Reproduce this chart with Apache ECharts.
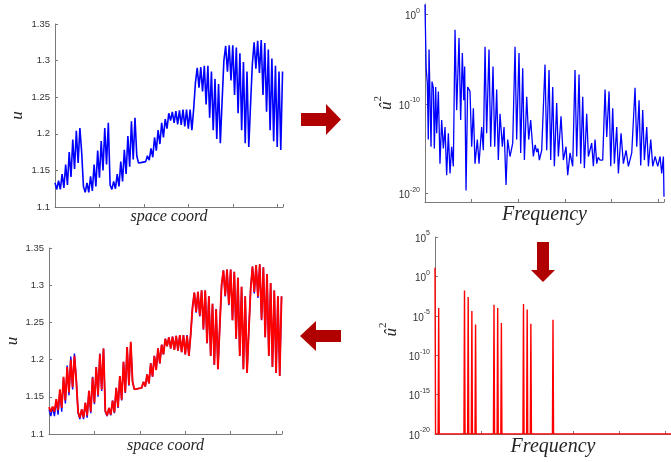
<!DOCTYPE html>
<html><head><meta charset="utf-8">
<script src="https://cdn.jsdelivr.net/npm/echarts@6/dist/echarts.min.js"></script>
<style>html,body{margin:0;padding:0;background:#fff}#c{width:671px;height:462px}</style>
</head><body><div id="c"></div>
<script>
// ---- spatial signal (index along space, value u) ----
const sIdx = [0,4,8,12,16,20,24,28,32,36,40,44,48,52,56,60,64,68,72,76,80,84,88,92,96,100,104,108,112,116,120,124,128,132,136,140,144,148,152,156,160,164,168,172,176,180,184,188,192,196,200,204,208,212,216,220,224,228,232,236,240,244,248,252,256,260,264,268,272,276,280,284,288,292,296,300,304,308,312,316,320,324,328,332,336,340,344,348,352,356,360,364,368,372,376,380,384,388,392,396,400,404,408,412,416,420,424,428,432,436,440,444,448,452,456,460,464,468,472,476,480,484,488,492,496,500,504,508,512];
const uBlue = [1.133,1.124,1.136,1.124,1.145,1.126,1.158,1.130,1.175,1.141,1.192,1.152,1.204,1.160,1.208,1.175,
1.128,1.120,1.133,1.120,1.142,1.122,1.158,1.128,1.177,1.140,1.190,1.150,1.208,1.158,1.215,1.130,
1.124,1.135,1.125,1.145,1.128,1.162,1.135,1.178,1.145,1.197,1.155,1.217,1.165,1.222,1.170,1.160,
1.162,1.161,1.163,1.162,1.170,1.164,1.180,1.168,1.195,1.177,1.205,1.186,1.215,1.195,1.220,1.207,
1.228,1.218,1.230,1.215,1.231,1.213,1.232,1.212,1.233,1.210,1.233,1.207,1.233,1.205,1.234,1.270,
1.290,1.263,1.291,1.258,1.293,1.240,1.293,1.222,1.285,1.205,1.275,1.193,1.268,1.187,1.245,1.300,
1.320,1.285,1.321,1.273,1.321,1.253,1.318,1.228,1.310,1.205,1.298,1.187,1.285,1.182,1.240,1.295,
1.325,1.289,1.327,1.283,1.328,1.253,1.324,1.230,1.315,1.205,1.303,1.190,1.293,1.182,1.285,1.178,1.285];
const uRed = [1.136,1.130,1.137,1.130,1.147,1.132,1.160,1.135,1.177,1.145,1.190,1.156,1.200,1.163,1.205,1.172,
1.130,1.122,1.133,1.122,1.142,1.125,1.158,1.130,1.176,1.142,1.190,1.152,1.207,1.160,1.215,1.131,
1.125,1.135,1.126,1.145,1.129,1.162,1.136,1.178,1.146,1.197,1.156,1.217,1.166,1.224,1.170,1.160,
1.162,1.161,1.163,1.162,1.170,1.164,1.180,1.168,1.195,1.177,1.205,1.186,1.215,1.195,1.220,1.207,
1.228,1.218,1.230,1.215,1.231,1.213,1.232,1.212,1.233,1.210,1.233,1.207,1.232,1.205,1.234,1.270,
1.290,1.264,1.291,1.259,1.293,1.241,1.293,1.222,1.285,1.205,1.275,1.193,1.268,1.187,1.245,1.300,
1.320,1.286,1.321,1.274,1.321,1.253,1.318,1.228,1.310,1.205,1.298,1.187,1.285,1.182,1.240,1.295,
1.325,1.291,1.327,1.285,1.328,1.254,1.324,1.230,1.315,1.205,1.303,1.190,1.293,1.182,1.285,1.178,1.285];

// ---- full spectrum (frequency index, log10 of u-hat^2) ----
const specIdx = [0,2.5,5.0,7.1,8.6,12.9,15.0,17.9,20.0,22.9,25.0,28.6,32.1,35.7,39.3,42.9,46.4,50.0,53.6,57.1,60.7,
64.3,67.9,72.9,76.4,80.0,82.9,85.0,87.9,91.4,96.4,100.0,103.6,107.1,112.1,115.7,121.4,125.0,
128.6,132.1,137.1,140.7,145.7,149.3,153.6,157.1,160.7,165.7,169.3,173.6,177.1,182.1,187.9,
192.9,196.4,201.4,205.0,209.3,212.9,217.9,222.1,226.4,232.1,236.0,239.3,242.0,245.0,250.0,
257.1,260.7,265.7,269.3,273.6,277.1,282.1,285.7,291.4,296.4,302.1,305.7,310.7,316.4,
321.4,325.0,330.0,333.6,337.9,341.4,346.4,350.0,357.1,360.7,364.3,367.9,371.0,375.0,380.7,
385.7,389.3,394.3,397.9,402.1,405.7,410.7,414.3,420.0,425.0,430.7,435.7,442.9,
450.0,453.6,458.6,462.1,466.4,470.0,475.0,478.6,483.6,487.9,492.9,498.6,503.6,507.1,510.7,512.0];
const specExp = [1.15,-6.0,-7.7,-14.0,-3.9,-14.8,-7.5,-8.2,-15.0,-8.1,-13.3,-8.6,-16.7,-11.8,-15.0,-12.6,-18.0,-13.3,-17.8,-14.8,-17.0,
-1.7,-10.7,-2.6,-11.8,-4.3,-9.6,-5.8,-19.7,-8.1,-8.6,-14.8,-10.5,-16.7,-14.0,-16.7,-12.6,-15.2,
-3.6,-13.3,-3.9,-14.8,-5.8,-14.8,-8.4,-16.3,-11.1,-14.8,-12.6,-19.1,-14.0,-15.9,-14.4,
-3.6,-14.0,-4.3,-15.5,-6.0,-16.3,-9.2,-14.0,-11.8,-15.9,-14.6,-15.4,-15.0,-16.3,-15.2,
-5.6,-15.2,-6.2,-16.3,-8.1,-17.0,-9.9,-15.9,-11.4,-16.3,-14.8,-18.0,-15.5,-17.0,
-6.2,-15.9,-6.7,-16.7,-9.2,-17.2,-11.1,-15.9,-14.4,-17.0,-14.0,-16.7,-16.0,-16.3,-16.3,
-8.4,-13.7,-8.6,-17.0,-10.5,-16.7,-12.6,-17.8,-13.3,-16.7,-15.2,-17.0,-15.5,
-8.2,-14.8,-9.6,-16.9,-10.7,-16.3,-12.6,-17.0,-14.0,-17.0,-15.9,-17.0,-15.9,-17.8,-15.9,-20.4];

// ---- truncated spectrum: retained modes (index, log10 value); all others at floor ----
const keptIdx = [0,8,64,72,80,88,128,136,144,192,200,208,256];
const keptExp = [1.1,-4.0,-1.8,-2.6,-4.4,-6.1,-3.6,-4.0,-5.9,-3.5,-4.2,-6.0,-5.5];
const floorExp = -20;

const specLabels = [-20,-10,0];

const sigBlue = sIdx.map((x,i)=>[x,uBlue[i]]);
const sigRed = sIdx.map((x,i)=>[x,uRed[i]]);
const specBlue = specIdx.map((x,i)=>[x,specExp[i]]);
const specRed = [];
keptIdx.forEach((x,i)=>{
  if (x>0) specRed.push([x-1.2,floorExp]);
  specRed.push([x,keptExp[i]]);
  specRed.push([x+1.2,floorExp]);
});
specRed.push([512,floorExp]);

const axisCol = '#7a7a7a', labCol = '#333333';
const axLine = {onZero:false,lineStyle:{color:axisCol,width:1}};
const axTick = {inside:true,length:3,lineStyle:{color:axisCol}};
const serifIt = {fontFamily:'Liberation Serif',fontStyle:'italic',color:'#262626'};
const powRich = {b:{fontSize:10,color:labCol,padding:[4,0,0,0],verticalAlign:'bottom'},
                 s:{fontSize:7,color:labCol,verticalAlign:'top'}};
const powFmt = v => '{b|10}{s|' + v + '}';
const uName = {u:Object.assign({fontSize:17,padding:[5,0,0,0],verticalAlign:'bottom'},serifIt),
               s:{fontSize:11,color:'#262626',fontFamily:'Liberation Serif',verticalAlign:'top'}};
const numFmt = v => String(+v.toFixed(2));

const chart = echarts.init(document.getElementById('c'),null,{renderer:'canvas'});
chart.setOption({
  animation:false,
  textStyle:{fontFamily:'Liberation Sans'},
  grid:[
    {left:55,right:388,top:24,bottom:255},
    {left:425,right:7,top:4,bottom:260},
    {left:49,right:389,top:248,bottom:28},
    {left:435,right:-3,top:237,bottom:28}
  ],
  xAxis:[
    {gridIndex:0,type:'value',min:0,max:513,interval:100,axisLine:axLine,axisTick:axTick,axisLabel:{show:false},splitLine:{show:false},
     name:'space coord',nameLocation:'middle',nameGap:2,nameTextStyle:Object.assign({fontSize:16,verticalAlign:'top'},serifIt)},
    {gridIndex:1,type:'value',min:0,max:512,interval:100,axisLine:axLine,axisTick:axTick,axisLabel:{show:false},splitLine:{show:false},
     name:'Frequency',nameLocation:'middle',nameGap:3,nameTextStyle:Object.assign({fontSize:20,verticalAlign:'top'},serifIt)},
    {gridIndex:2,type:'value',min:0,max:513,interval:100,axisLine:axLine,axisTick:axTick,axisLabel:{show:false},splitLine:{show:false},
     name:'space coord',nameLocation:'middle',nameGap:4,nameTextStyle:Object.assign({fontSize:16,verticalAlign:'top'},serifIt)},
    {gridIndex:3,type:'value',min:0,max:512,interval:100,axisLine:axLine,axisTick:axTick,axisLabel:{show:false},splitLine:{show:false},
     name:'Frequency',nameLocation:'middle',nameGap:3,nameTextStyle:Object.assign({fontSize:20,verticalAlign:'top'},serifIt)}
  ],
  yAxis:[
    {gridIndex:0,type:'value',min:1.1,max:1.35,interval:0.05,axisLine:Object.assign({show:true},axLine),axisTick:Object.assign({show:true},axTick),
     axisLabel:{fontSize:9.5,color:labCol,margin:5,formatter:numFmt},splitLine:{show:false},
     name:'u',nameLocation:'middle',nameGap:29,nameTextStyle:Object.assign({fontSize:17},serifIt)},
    {gridIndex:1,type:'value',min:-21,max:1.2,axisLine:Object.assign({show:true},axLine),
     axisTick:Object.assign({show:true,customValues:specLabels},axTick),
     axisLabel:{margin:5,customValues:specLabels,formatter:powFmt,rich:powRich},splitLine:{show:false},
     name:'{u|û}{s|2}',nameLocation:'middle',nameGap:30,nameTextStyle:{rich:uName}},
    {gridIndex:2,type:'value',min:1.1,max:1.35,interval:0.05,axisLine:Object.assign({show:true},axLine),axisTick:Object.assign({show:true},axTick),
     axisLabel:{fontSize:9.5,color:labCol,margin:5,formatter:numFmt},splitLine:{show:false},
     name:'u',nameLocation:'middle',nameGap:28,nameTextStyle:Object.assign({fontSize:17},serifIt)},
    {gridIndex:3,type:'value',min:-20,max:5,interval:5,axisLine:Object.assign({show:true},axLine),axisTick:Object.assign({show:true},axTick),
     axisLabel:{margin:5,formatter:powFmt,rich:powRich},splitLine:{show:false},
     name:'{u|û}{s|2}',nameLocation:'middle',nameGap:35,nameTextStyle:{rich:uName,padding:[0,0,0,12]}}
  ],
  series:[
    {type:'line',xAxisIndex:0,yAxisIndex:0,data:sigBlue,showSymbol:false,lineStyle:{color:'#0000ff',width:1.6},itemStyle:{color:'#0000ff'}},
    {type:'line',xAxisIndex:1,yAxisIndex:1,data:specBlue,showSymbol:false,lineStyle:{color:'#0000ff',width:1.3},itemStyle:{color:'#0000ff'}},
    {type:'line',xAxisIndex:2,yAxisIndex:2,data:sigBlue,showSymbol:false,lineStyle:{color:'#0000ff',width:1.4},itemStyle:{color:'#0000ff'}},
    {type:'line',xAxisIndex:2,yAxisIndex:2,data:sigRed,showSymbol:false,lineStyle:{color:'#ff0000',width:1.9},itemStyle:{color:'#ff0000'}},
    {type:'line',xAxisIndex:3,yAxisIndex:3,data:specRed,showSymbol:false,lineStyle:{color:'#ff0000',width:1.4},itemStyle:{color:'#ff0000'}}
  ],
  graphic:[
    {type:'polygon',shape:{points:[[301,113],[326,113],[326,104],[341,119.5],[326,135],[326,126],[301,126]]},style:{fill:'#b00000'}},
    {type:'polygon',shape:{points:[[537,242],[549,242],[549,270],[555,270],[543,282],[531,270],[537,270]]},style:{fill:'#b00000'}},
    {type:'polygon',shape:{points:[[341,330],[316,330],[316,321],[300,336],[316,351],[316,342],[341,342]]},style:{fill:'#b00000'}}
  ]
});
</script>
</body></html>
